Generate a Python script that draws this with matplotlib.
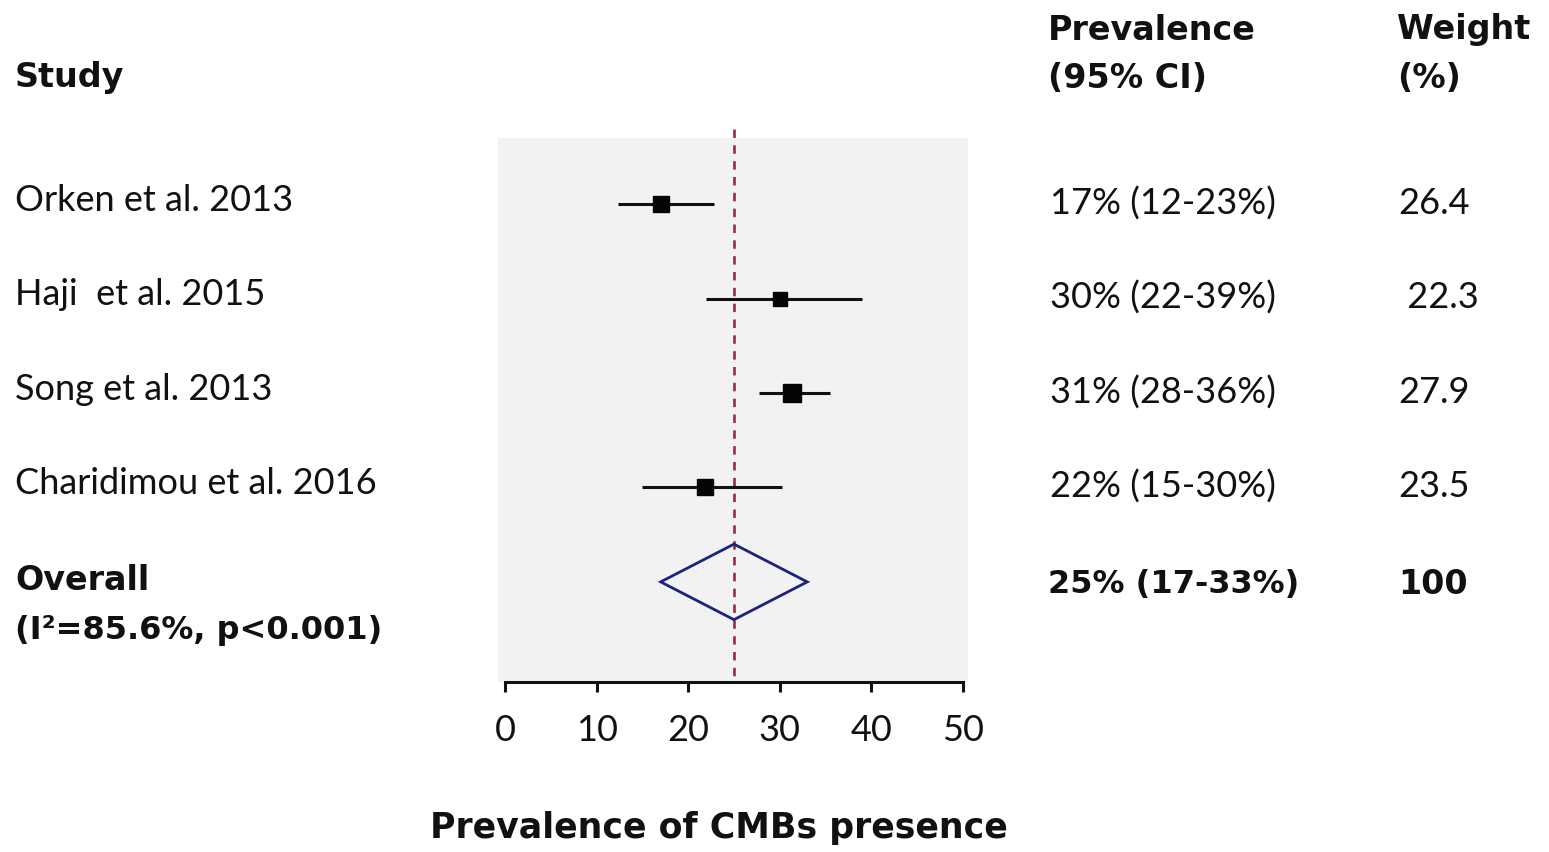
import numpy as np
import matplotlib.pyplot as plt
from matplotlib.transforms import blended_transform_factory

plt.rcParams['font.family'] = ['Lato', 'DejaVu Sans']

studies = ['Orken et al. 2013', 'Haji  et al. 2015', 'Song et al. 2013', 'Charidimou et al. 2016']
prev = [17, 30, 31.3, 21.8]
ci_low = [12.3, 22, 27.7, 15]
ci_high = [22.8, 39, 35.5, 30.2]
weights = [26.4, 22.3, 27.9, 23.5]
prev_labels = ['17% (12-23%)', '30% (22-39%)', '31% (28-36%)', '22% (15-30%)']
weight_labels = ['26.4', ' 22.3', '27.9', '23.5']

overall = 25
overall_low = 17
overall_high = 33
overall_label = '25% (17-33%)'
overall_weight = '100'
xticks = [0, 10, 20, 30, 40, 50]

W, H = 1549, 853
fig = plt.figure(figsize=(W / 100, H / 100), dpi=100)
ax = fig.add_axes([498 / W, 1 - 683 / H, 470 / W, 544 / H])
ax.set_facecolor('#f2f2f2')

rows = np.arange(len(studies))
ax.hlines(rows, ci_low, ci_high, color='#111111', lw=2.2, zorder=3)
for r, p, w in zip(rows, prev, weights):
    ax.plot(p, r, marker='s', color='#050505', ms=w * 0.46, zorder=4)

# pooled estimate diamond
yo = len(studies)
ax.fill([overall_low, overall, overall_high, overall],
        [yo, yo - 0.40, yo, yo + 0.40],
        facecolor='none', edgecolor='#1c237d', lw=2.0, zorder=4)

ax.plot([overall, overall], [-0.80, 5.06], color='#9e2a3c', lw=1.9,
        ls=(0, (3.2, 2.8)), clip_on=False, zorder=2)

ax.set_xlim(-0.76, 50.55)
ax.set_ylim(5.06, -0.70)
for s in ['top', 'left', 'right']:
    ax.spines[s].set_visible(False)
ax.spines['bottom'].set_bounds(0, 50)
ax.spines['bottom'].set_linewidth(2.2)
ax.spines['bottom'].set_color('#111111')
ax.set_yticks([])
ax.set_xticks(xticks)
ax.tick_params(axis='x', direction='out', length=7, width=2.2, color='#111111',
               pad=15, labelsize=26, labelcolor='#111111')

# text columns: x in figure fraction, y in data rows
tr = blended_transform_factory(fig.transFigure, ax.transData)
fs = 26
bold = dict(family='DejaVu Sans', fontweight='bold')
txt = dict(transform=tr, va='center', ha='left', color='#111111', clip_on=False)
for r, name, pl, wl in zip(rows, studies, prev_labels, weight_labels):
    ax.text(15 / W, r - 0.05, name, fontsize=fs, **txt)
    ax.text(1050 / W, r - 0.02, pl, fontsize=fs, **txt)
    ax.text(1398 / W, r - 0.02, wl, fontsize=fs, **txt)

ax.text(15 / W, yo - 0.03, 'Overall', fontsize=24, **bold, **txt)
ax.text(15 / W, yo + 0.50, '(I²=85.6%, p<0.001)', fontsize=23, **bold, **txt)
ax.text(1048 / W, yo + 0.02, overall_label, fontsize=23, **bold, **txt)
ax.text(1398 / W, yo + 0.02, overall_weight, fontsize=24, **bold, **txt)

hdr = dict(va='center', ha='left', fontsize=24, color='#111111', **bold)
fig.text(15 / W, 1 - 78 / H, 'Study', **hdr)
fig.text(1048 / W, 1 - 30 / H, 'Prevalence', **hdr)
fig.text(1048 / W, 1 - 78 / H, '(95% CI)', **hdr)
fig.text(1397 / W, 1 - 30 / H, 'Weight', **hdr)
fig.text(1397 / W, 1 - 78 / H, '(%)', **hdr)

fig.text(719 / W, 1 - 828 / H, 'Prevalence of CMBs presence', ha='center', va='center',
         fontsize=25, color='#111111', **bold)

fig.savefig('out.png', dpi=100, facecolor='white')
